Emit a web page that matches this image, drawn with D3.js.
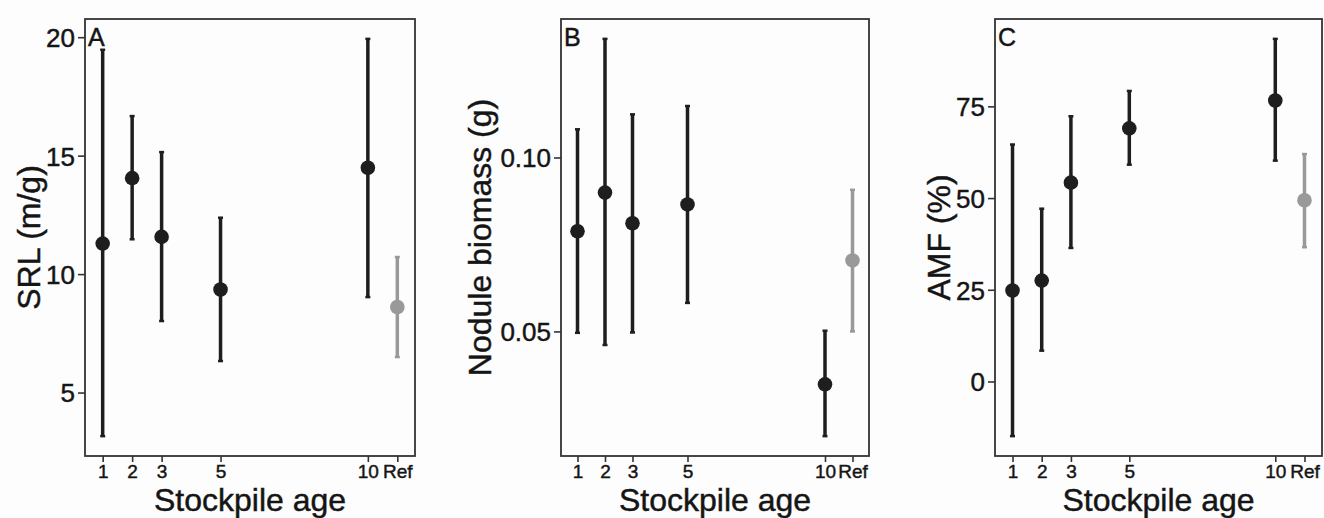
<!DOCTYPE html>
<html>
<head>
<meta charset="utf-8">
<script src="https://cdn.jsdelivr.net/npm/d3@7"></script>
<style>
  body { margin: 0; background: #fdfdfd; }
  svg { display: block; font-family: "Liberation Sans", Arial, Helvetica, sans-serif; }
  svg text { stroke: #151515; stroke-width: 0.45px; }
</style>
</head>
<body>
<div id="viz_tool"></div>
<script>
// stockpile age categories (Ref is drawn at position 11)
var ages = ["1", "2", "3", "5", "10", "Ref"];
var agePos = [1, 2, 3, 5, 10, 11];

// panel A - SRL (m/g)
var srlMean  = [11.29, 14.05, 11.57, 9.35, 14.49, 8.61];
var srlLower = [3.16, 11.47, 8.02, 6.33, 9.03, 6.50];
var srlUpper = [19.47, 16.67, 15.15, 12.38, 19.93, 10.72];
var srlTicks = [5, 10, 15, 20];

// panel B - nodule biomass (g)
var nodMean  = [0.0788, 0.0899, 0.0811, 0.0865, 0.0348, 0.0704];
var nodLower = [0.0496, 0.0461, 0.0497, 0.0582, 0.0199, 0.0500];
var nodUpper = [0.1081, 0.1341, 0.1124, 0.1148, 0.0502, 0.0907];
var nodTicks = [0.05, 0.10];

// panel C - AMF (%)
var amfMean  = [24.8, 27.5, 54.2, 69.0, 76.6, 49.4];
var amfLower = [-14.9, 8.4, 36.4, 59.1, 60.2, 36.6];
var amfUpper = [64.6, 47.1, 72.3, 79.2, 93.4, 62.0];
var amfTicks = [0, 25, 50, 75];

var width = 1324, height = 518;

var svg = d3.select("#viz_tool")
  .append("svg")
    .attr("width", width)
    .attr("height", height);

svg.append("rect")
  .attr("width", width)
  .attr("height", height)
  .attr("fill", "#fdfdfd");

function draw_panel(opt) {
    var top = 19, bottom = 456;
    var left = opt.left, right = opt.right;

    var rows = ages.map(function(a, i) {
        return {age: a, pos: agePos[i], mean: opt.mean[i], lo: opt.lower[i], hi: opt.upper[i]};
    });

    // ggplot style 5% expansion on the y range
    var lo = d3.min(opt.lower), hi = d3.max(opt.upper);
    var pad = (hi - lo) * 0.05;

    var xScale = d3.scaleLinear().domain([0.4, 11.6]).range([left, right]);
    var yScale = d3.scaleLinear().domain([lo - pad, hi + pad]).range([bottom, top]);

    var g = svg.append("g");

    // axes
    var yAxis = g.append("g")
        .attr("transform", "translate(" + left + ",0)")
        .call(d3.axisLeft(yScale).tickValues(opt.ticks).tickFormat(opt.fmt).tickSize(7).tickPadding(3));
    yAxis.select(".domain").remove();
    yAxis.selectAll("line").attr("stroke", "#333").attr("stroke-width", 1.6);
    yAxis.selectAll("text").attr("fill", "#151515").style("font-size", "26px").attr("dy", "0.36em");

    var xAxis = g.append("g")
        .attr("transform", "translate(0," + bottom + ")")
        .call(d3.axisBottom(xScale).tickValues(agePos)
              .tickFormat(function(d, i) { return ages[i]; })
              .tickSize(6).tickPadding(3));
    xAxis.select(".domain").remove();
    xAxis.selectAll("line").attr("stroke", "#333").attr("stroke-width", 1.6);
    xAxis.selectAll("text").attr("fill", "#151515").style("font-size", "19px");

    // panel border
    g.append("rect")
        .attr("x", left)
        .attr("y", top)
        .attr("width", right - left)
        .attr("height", bottom - top)
        .attr("fill", "none")
        .attr("stroke", "#333")
        .attr("stroke-width", 1.8);

    // error bars
    var colour = function(d) { return d.age == "Ref" ? "#999999" : "#1e1e1e"; };
    g.selectAll(".bar")
        .data(rows)
        .enter()
        .append("line")
        .attr("x1", function(d) { return xScale(d.pos); })
        .attr("x2", function(d) { return xScale(d.pos); })
        .attr("y1", function(d) { return yScale(d.lo); })
        .attr("y2", function(d) { return yScale(d.hi); })
        .attr("stroke", colour)
        .attr("stroke-width", 3.5);

    ["lo", "hi"].forEach(function(k) {
        g.selectAll(".cap" + k)
            .data(rows)
            .enter()
            .append("line")
            .attr("x1", function(d) { return xScale(d.pos) - 2.5; })
            .attr("x2", function(d) { return xScale(d.pos) + 2.5; })
            .attr("y1", function(d) { return yScale(d[k]); })
            .attr("y2", function(d) { return yScale(d[k]); })
            .attr("stroke", colour)
            .attr("stroke-width", 2.5);
    });

    g.selectAll(".pt")
        .data(rows)
        .enter()
        .append("circle")
        .attr("cx", function(d) { return xScale(d.pos); })
        .attr("cy", function(d) { return yScale(d.mean); })
        .attr("r", 7.3)
        .attr("fill", colour);

    // panel letter
    g.append("text")
        .attr("x", left + 3)
        .attr("y", 46)
        .attr("fill", "#151515")
        .style("font-size", "25px")
        .text(opt.letter);

    // axis titles
    g.append("text")
        .attr("x", (left + right) / 2)
        .attr("y", 511)
        .attr("fill", "#151515")
        .style("font-size", "32px")
        .style("text-anchor", "middle")
        .text("Stockpile age");

    g.append("text")
        .attr("transform", "translate(" + opt.titleX + "," + ((top + bottom) / 2) + ") rotate(-90)")
        .attr("fill", "#151515")
        .style("font-size", "32px")
        .style("text-anchor", "middle")
        .text(opt.title);
}

draw_panel({letter: "A", left: 85, right: 415, mean: srlMean, lower: srlLower, upper: srlUpper,
            ticks: srlTicks, fmt: d3.format("d"), title: "SRL (m/g)", titleX: 40});
draw_panel({letter: "B", left: 561, right: 869, mean: nodMean, lower: nodLower, upper: nodUpper,
            ticks: nodTicks, fmt: d3.format(".2f"), title: "Nodule biomass (g)", titleX: 491});
draw_panel({letter: "C", left: 995, right: 1322, mean: amfMean, lower: amfLower, upper: amfUpper,
            ticks: amfTicks, fmt: d3.format("d"), title: "AMF (%)", titleX: 950});
</script>
</body>
</html>
